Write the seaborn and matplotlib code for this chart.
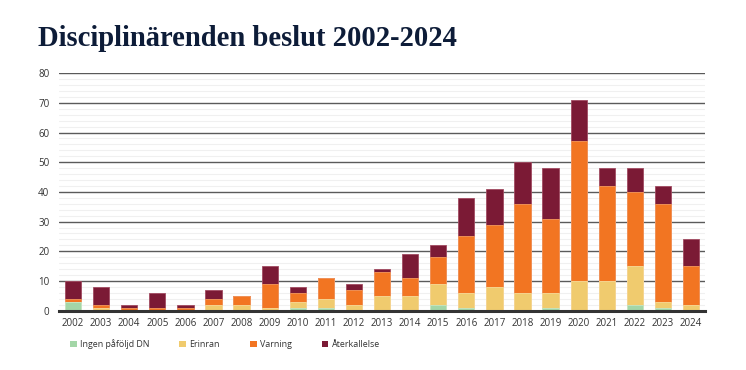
import matplotlib.pyplot as plt
import seaborn as sns
import pandas as pd
import numpy as np
from matplotlib.patches import Patch

# Data
years = [str(y) for y in range(2002, 2025)]
ingen = [3, 0, 0, 0, 0, 0, 0, 0, 1, 1, 0, 0, 0, 2, 1, 0, 0, 1, 0, 0, 2, 1, 0]
erinran = [0, 1, 0, 0, 0, 2, 2, 1, 2, 3, 2, 5, 5, 7, 5, 8, 6, 5, 10, 10, 13, 2, 2]
varning = [1, 1, 1, 1, 1, 2, 3, 8, 3, 7, 5, 8, 6, 9, 19, 21, 30, 25, 47, 32, 25, 33, 13]
aterkallelse = [6, 6, 1, 5, 1, 3, 0, 6, 2, 0, 2, 1, 8, 4, 13, 12, 14, 17, 14, 6, 8, 6, 9]

series_names = ["Ingen påföljd DN", "Erinran", "Varning", "Återkallelse"]
colors = ["#a3d6a7", "#f0cb6e", "#f27522", "#7b1a35"]
edges = ["#c4e6c6", "#f6dc9a", "#f79a5c", "#a14b62"]

df = pd.DataFrame({"year": years, "Ingen påföljd DN": ingen, "Erinran": erinran,
                   "Varning": varning, "Återkallelse": aterkallelse})
cum = df[series_names].cumsum(axis=1)

sns.set_style("white")
plt.rcParams["font.family"] = ["Open Sans", "DejaVu Sans"]

fig = plt.figure(figsize=(7.46, 3.70), dpi=100)
ax = fig.add_axes([0.0791, 0.1603, 0.866, 0.642])

# stacked bars: draw cumulative totals back to front
for name, c, ec in reversed(list(zip(series_names, colors, edges))):
    sns.barplot(x=df["year"], y=cum[name], color=c, saturation=1, width=0.58,
                edgecolor=ec, linewidth=0.6, ax=ax, zorder=3)

ax.set_ylim(0, 80)
ax.set_xlim(-0.5, len(years) - 0.5)
ax.set_yticks(range(0, 81, 10))
ax.set_yticks(range(0, 81, 2), minor=True)
ax.grid(axis="y", which="major", color="#5a5a5a", linewidth=1.0, zorder=1)
ax.grid(axis="y", which="minor", color="#f0f0f0", linewidth=0.8, zorder=0)
ax.set_axisbelow(True)
for s in ["top", "right", "left"]:
    ax.spines[s].set_visible(False)
ax.spines["bottom"].set_color("#333333")
ax.spines["bottom"].set_linewidth(2.2)
ax.spines["bottom"].set_zorder(4)
ax.tick_params(axis="both", which="both", length=0, labelsize=7, labelcolor="#333333")
ax.tick_params(axis="y", pad=7)
ax.tick_params(axis="x", pad=5)
ax.set_xlabel("")
ax.set_ylabel("")

handles = [Patch(facecolor=c, edgecolor="none") for c in colors]
fig.legend(handles, series_names, loc="center left", bbox_to_anchor=(0.083, 0.07),
           ncol=4, frameon=False, fontsize=6.4, handlelength=0.75, handleheight=0.75,
           handletextpad=0.35, columnspacing=3.4, labelcolor="#333333")

fig.text(38 / 746, 1 - 46.5 / 370, "Disciplinärenden beslut 2002-2024",
         fontsize=20.6, fontweight="bold", family=["Liberation Serif", "DejaVu Serif"],
         color="#0d1c38", va="baseline", ha="left")

fig.savefig("out.png", dpi=100)
